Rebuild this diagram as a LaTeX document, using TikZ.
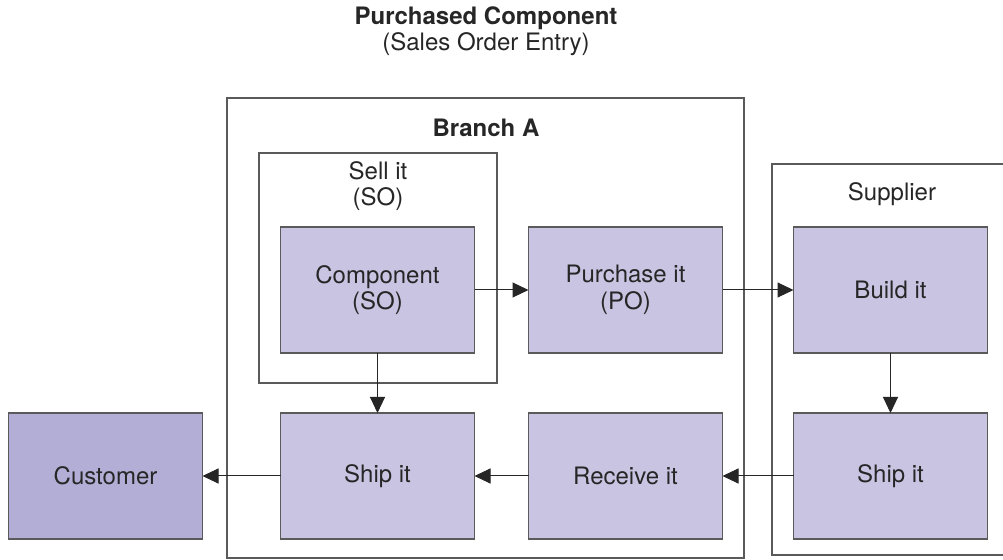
\documentclass[tikz,border=0pt]{standalone}
\usepackage{fontspec}
\setmainfont{TeX Gyre Heros}
\usetikzlibrary{positioning,calc,arrows.meta}
\definecolor{boxfill}{HTML}{C8C4E2}
\definecolor{custfill}{HTML}{B2AED6}
\definecolor{edgegray}{HTML}{5A5A5A}
\tikzset{
    every node/.style={font=\fontsize{12}{13.2}\selectfont, text=black!85},
    rectblue/.style={draw=edgegray, fill=boxfill, line width=0.6pt, minimum width=97pt, minimum height=63pt, inner sep=0pt, outer sep=0pt, align=center},
    rectcust/.style={rectblue, fill=custfill},
    framegray/.style={draw=edgegray, line width=0.6pt},
    arrow/.style={-{Triangle[length=8pt,width=7.5pt]}, line width=0.5pt, black!85},
}

\begin{document}
\begin{tikzpicture}[node distance=27pt]
\useasboundingbox (0,0) rectangle (501.5pt,-280pt);
% frames behind the boxes
\draw[framegray] (113.5pt,-49pt) rectangle (372pt,-279pt);
\draw[framegray] (129.5pt,-76.5pt) rectangle (248.5pt,-191.5pt);
\draw[framegray] (510pt,-82pt) -- (386pt,-82pt) -- (386pt,-277.5pt) -- (510pt,-277.5pt);
% titles of the frames
\node[align=center] (title) at (243pt,-15.75pt) {\textbf{Purchased Component}\\(Sales Order Entry)};
\node (branch) at (243pt,-64pt) {\textbf{Branch A}};
\node[align=center] (sell) at (189pt,-93pt) {Sell it\\(SO)};
\node (supplier) at (446pt,-97pt) {Supplier};
% top row
\node[rectblue] (comp) at (188.75pt,-145pt) {Component\\(SO)};
\node[rectblue, right=27pt of comp] (purchase) {Purchase it\\(PO)};
\node[rectblue, right=35.5pt of purchase] (build) {Build it};
% bottom row
\node[rectblue, below=30pt of comp] (shipA) {Ship it};
\node[rectblue, below=30pt of purchase] (receive) {Receive it};
\node[rectblue, below=30pt of build] (shipS) {Ship it};
\node[rectcust, left=39pt of shipA] (customer) {Customer};
% connectors
\draw[arrow] (comp) -- (purchase);
\draw[arrow] (purchase) -- (build);
\draw[arrow] (build) -- (shipS);
\draw[arrow] (comp) -- (shipA);
\draw[arrow] (shipS) -- (receive);
\draw[arrow] (receive) -- (shipA);
\draw[arrow] (shipA) -- (customer);
\end{tikzpicture}
\end{document}
